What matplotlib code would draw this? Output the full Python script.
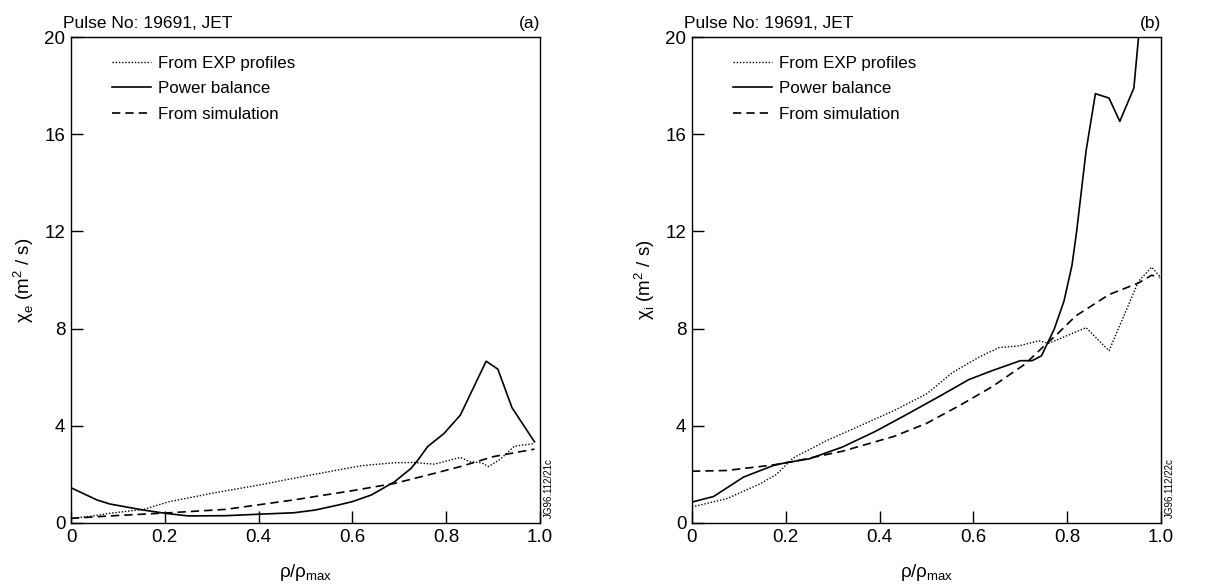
import matplotlib
matplotlib.use('Agg')
import matplotlib.pyplot as plt

plt.rcParams['font.family'] = ['Liberation Sans', 'DejaVu Sans']
plt.rcParams['mathtext.fontset'] = 'custom'
plt.rcParams['mathtext.rm'] = 'Liberation Sans'

# (a) electron diffusivity
xe_pb = [0.0, 0.055, 0.083, 0.155, 0.2, 0.25, 0.33, 0.40, 0.475, 0.52, 0.57, 0.60, 0.64,
         0.69, 0.725, 0.74, 0.76, 0.795, 0.83, 0.885, 0.91, 0.94, 0.988]
ye_pb = [1.45, 0.95, 0.78, 0.53, 0.40, 0.29, 0.30, 0.36, 0.42, 0.53, 0.74, 0.88, 1.15,
         1.70, 2.25, 2.60, 3.14, 3.68, 4.44, 6.66, 6.33, 4.75, 3.34]
xe_exp = [0.0, 0.048, 0.083, 0.155, 0.21, 0.30, 0.40, 0.51, 0.62, 0.69, 0.73, 0.775,
          0.83, 0.85, 0.875, 0.89, 0.915, 0.945, 0.988]
ye_exp = [0.19, 0.29, 0.40, 0.56, 0.88, 1.22, 1.56, 1.97, 2.36, 2.48, 2.49, 2.42,
          2.70, 2.52, 2.48, 2.32, 2.62, 3.16, 3.27]
xe_sim = [0.0, 0.083, 0.21, 0.33, 0.475, 0.60, 0.69, 0.76, 0.83, 0.90, 0.988]
ye_sim = [0.19, 0.29, 0.42, 0.56, 0.95, 1.33, 1.63, 1.97, 2.32, 2.73, 3.04]

# (b) ion diffusivity
xi_pb = [0.0, 0.046, 0.11, 0.174, 0.20, 0.25, 0.32, 0.39, 0.46, 0.53, 0.59, 0.64, 0.70,
         0.725, 0.745, 0.772, 0.793, 0.81, 0.82, 0.84, 0.86, 0.889, 0.912, 0.942, 0.952, 0.97]
yi_pb = [0.86, 1.09, 1.89, 2.37, 2.48, 2.64, 3.12, 3.76, 4.49, 5.24, 5.90, 6.27, 6.68,
         6.68, 6.88, 7.97, 9.13, 10.6, 12.0, 15.3, 17.67, 17.49, 16.53, 17.9, 20.0, 25.0]
xi_exp = [0.0, 0.074, 0.145, 0.18, 0.216, 0.287, 0.358, 0.43, 0.50, 0.556, 0.613, 0.655,
          0.697, 0.74, 0.76, 0.84, 0.889, 0.952, 0.98, 1.0]
yi_exp = [0.66, 1.0, 1.61, 2.0, 2.68, 3.39, 4.0, 4.62, 5.31, 6.2, 6.84, 7.22,
          7.29, 7.5, 7.39, 8.04, 7.09, 9.95, 10.53, 10.09]
xi_sim = [0.0, 0.074, 0.174, 0.216, 0.32, 0.43, 0.50, 0.57, 0.64, 0.71, 0.747, 0.78,
          0.818, 0.889, 0.952, 0.98, 0.997]
yi_sim = [2.13, 2.16, 2.39, 2.53, 2.95, 3.56, 4.10, 4.83, 5.61, 6.54, 7.22, 7.80,
          8.52, 9.40, 9.88, 10.2, 10.1]

panels = [
    (xe_exp, ye_exp, xe_pb, ye_pb, xe_sim, ye_sim, 'χ$_\\mathregular{e}$ (m$^\\mathregular{2}$ / s)', '(a)', 'JG96.112/21c'),
    (xi_exp, yi_exp, xi_pb, yi_pb, xi_sim, yi_sim, 'χ$_\\mathregular{i}$ (m$^\\mathregular{2}$ / s)', '(b)', 'JG96.112/22c'),
]

fig = plt.figure(figsize=(12.2, 5.84), dpi=100)
lefts = [0.0582, 0.5672]

for left, (x1, y1, x2, y2, x3, y3, ylab, tag, code) in zip(lefts, panels):
    ax = fig.add_axes([left, 0.1045, 0.3845, 0.832])
    ax.plot(x1, y1, color='black', lw=1.0, linestyle=(0, (1, 1.3)), label='From EXP profiles')
    ax.plot(x2, y2, color='black', lw=1.2, label='Power balance')
    ax.plot(x3, y3, color='black', lw=1.2, linestyle=(0, (5, 3)), label='From simulation')
    ax.set_xlim(0, 1.0)
    ax.set_ylim(0, 20)
    ax.set_xticks([0, 0.2, 0.4, 0.6, 0.8, 1.0])
    ax.set_xticklabels(['0', '0.2', '0.4', '0.6', '0.8', '1.0'])
    ax.set_yticks([0, 4, 8, 12, 16, 20])
    ax.tick_params(direction='in', length=8.5, width=1, labelsize=13.5, pad=4)
    ax.set_xlabel('ρ/ρ$_\\mathregular{max}$', fontsize=13.5, labelpad=12)
    ax.set_ylabel(ylab, fontsize=13.5, labelpad=6)
    for s in ax.spines.values():
        s.set_linewidth(1.0)
    ax.legend(loc='upper left', bbox_to_anchor=(0.087, 0.962), frameon=False,
              fontsize=12.2, borderpad=0, borderaxespad=0, handlelength=2.3,
              handletextpad=0.45, labelspacing=0.62)
    ax.text(-0.017, 1.012, 'Pulse No: 19691, JET', transform=ax.transAxes,
            fontsize=12.5, ha='left', va='bottom')
    ax.text(1.0, 1.012, tag, transform=ax.transAxes, fontsize=12.5, ha='right', va='bottom')
    ax.text(1.018, 0.01, code, transform=ax.transAxes, fontsize=7, rotation=90,
            ha='center', va='bottom')

fig.savefig('out.png', dpi=100)
